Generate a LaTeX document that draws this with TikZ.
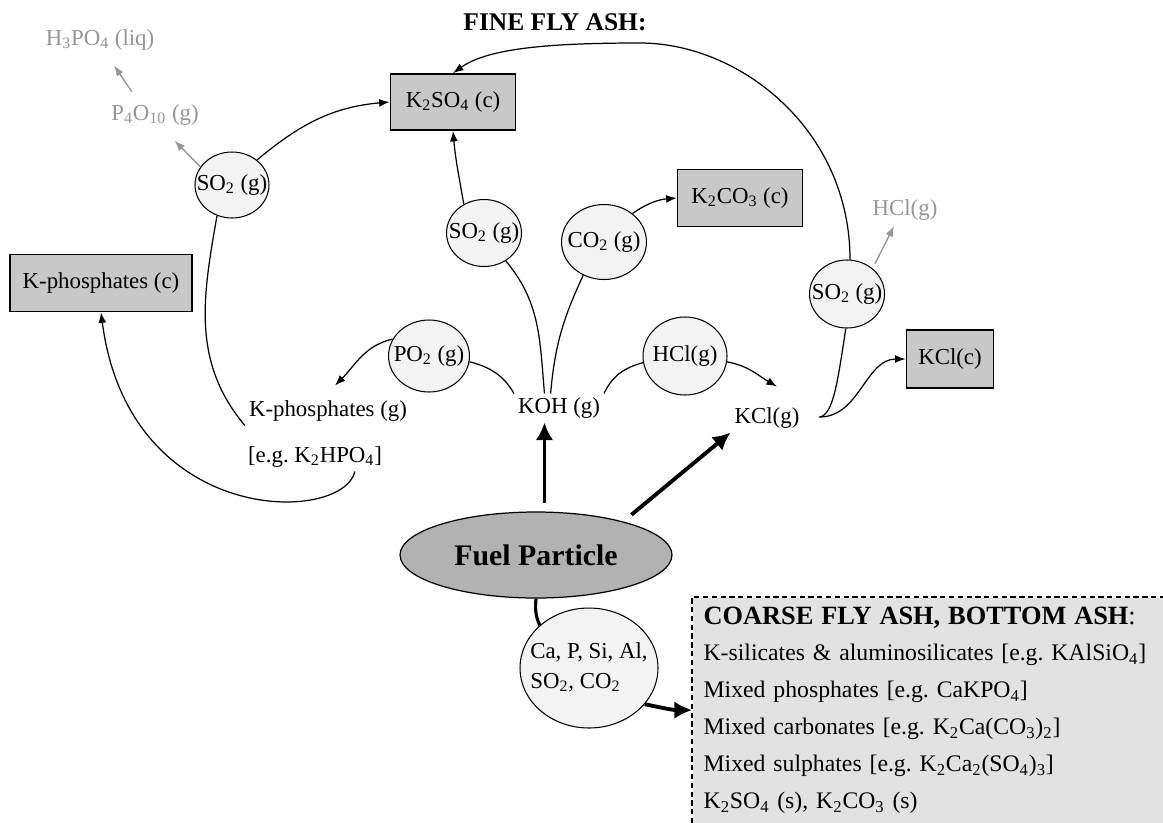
\documentclass[tikz,border=0pt]{standalone}
\usepackage{fontspec}
\setmainfont{Liberation Serif}
\usetikzlibrary{arrows.meta, shapes.geometric}
\definecolor{boxgray}{RGB}{200,200,200}
\definecolor{bubble}{RGB}{243,243,243}
\definecolor{fuelgray}{RGB}{178,178,178}
\definecolor{ashgray}{RGB}{226,226,226}
\definecolor{fadegray}{RGB}{150,150,150}
\newcommand{\sbs}[1]{\textsubscript{#1}}
\newcommand{\inbub}[1]{\makebox[0pt]{#1}}
\frenchspacing
\tikzset{
    txt/.style={font=\fontsize{13}{15}\selectfont, inner sep=2pt},
    fade/.style={txt, text=fadegray},
    bub/.style={ellipse, draw, line width=0.6pt, fill=bubble, inner sep=0pt, font=\fontsize{13}{15}\selectfont},
    prod/.style={rectangle, draw, line width=1pt, fill=boxgray, inner sep=0pt, font=\fontsize{13}{15}\selectfont},
    fadearrow/.style={->, fadegray, line width=0.8pt},
    bigarrow/.style={-{Latex[length=10pt,width=10pt]}, line width=2.2pt}
}

\begin{document}
\begin{tikzpicture}[x=0.02cm, y=0.02cm, line width=0.7pt, >={Latex[length=6pt,width=4.5pt]}]
    \useasboundingbox (0,0) rectangle (1163,-822);
    %
    \node[font=\bfseries\fontsize{14.5}{16}\selectfont] (fine) at (555,-22) {FINE FLY ASH:};
    \node[fade] (h3po4) at (100,-40) {H\sbs{3}PO\sbs{4} (liq)};
    \node[fade] (p4o10) at (155,-115) {P\sbs{4}O\sbs{10} (g)};
    \node[fade] (hclg) at (905,-210) {HCl(g)};
    %
    \node[prod, minimum width=2.5cm, minimum height=1.12cm] (k2so4) at (453,-102) {K\sbs{2}SO\sbs{4} (c)};
    \node[prod, minimum width=2.5cm, minimum height=1.14cm] (k2co3) at (740,-198) {K\sbs{2}CO\sbs{3} (c)};
    \node[prod, minimum width=3.64cm, minimum height=1.14cm] (kphosc) at (101,-283) {K-phosphates (c)};
    \node[prod, minimum width=1.74cm, minimum height=1.16cm] (kclc) at (950,-359) {KCl(c)};
    %
    \node[bub, minimum width=1.48cm, minimum height=1.32cm] (so2a) at (232,-185) {\inbub{SO\sbs{2} (g)}};
    \node[bub, minimum width=1.5cm, minimum height=1.34cm] (so2b) at (484,-233) {\inbub{SO\sbs{2} (g)}};
    \node[bub, minimum width=1.7cm, minimum height=1.5cm] (co2) at (604,-242) {\inbub{CO\sbs{2} (g)}};
    \node[bub, minimum width=1.5cm, minimum height=1.36cm] (so2c) at (847,-294) {\inbub{SO\sbs{2} (g)}};
    \node[bub, minimum width=1.62cm, minimum height=1.44cm] (po2) at (429,-356) {\inbub{PO\sbs{2} (g)}};
    \node[bub, minimum width=1.68cm, minimum height=1.56cm] (hcl) at (685,-356) {\inbub{HCl(g)}};
    %
    \node[txt] (kphosg) at (328,-411) {K-phosphates (g)};
    \node[txt, anchor=west] (eg) at (244,-457) {[e.g. K\sbs{2}HPO\sbs{4}]};
    \node[txt] (koh) at (559,-408) {KOH (g)};
    \node[txt] (kclg) at (767,-418) {KCl(g)};
    \coordinate (fork) at ([shift={(16,1)}]kclg.east);
    %
    \node[ellipse, draw, fill=fuelgray, minimum width=5.44cm, minimum height=1.72cm, inner sep=0pt, font=\bfseries\fontsize{17}{19}\selectfont] (fuel) at (536,-555) {\inbub{Fuel Particle}};
    \node[bub, minimum width=2.76cm, minimum height=2.4cm] (mix) at (589,-668) {\inbub{\begin{tabular}{@{}l@{}}Ca, P, Si, Al,\\[2pt] SO\sbs{2}, CO\sbs{2}\end{tabular}}};
    %
    \node[anchor=north west, fill=ashgray, minimum width=9.42cm, minimum height=4.5cm, inner xsep=0.22cm, inner ysep=0pt, text width=8.98cm, align=left, font=\fontsize{13.5}{21}\selectfont] (coarse) at (692,-597) {{\fontsize{15}{21}\selectfont\textbf{COARSE FLY ASH, BOTTOM ASH}:}\\
        K-silicates \& aluminosilicates [e.g. KAlSiO\sbs{4}]\\
        Mixed phosphates [e.g. CaKPO\sbs{4}]\\
        Mixed carbonates [e.g. K\sbs{2}Ca(CO\sbs{3})\sbs{2}]\\
        Mixed sulphates [e.g. K\sbs{2}Ca\sbs{2}(SO\sbs{4})\sbs{3}]\\
        K\sbs{2}SO\sbs{4} (s), K\sbs{2}CO\sbs{3} (s)};
    \draw[dash pattern=on 3pt off 2pt, line width=0.9pt] (coarse.south west) -- (coarse.north west) -- (coarse.north east);
    %
    \draw[fadearrow, shorten <=6pt, shorten >=7.5pt] (p4o10.140) -- (h3po4.-65);
    \draw[fadearrow, shorten >=9pt] (so2a.150) -- (p4o10.-60);
    \draw[fadearrow, shorten <=3pt, shorten >=1pt] (so2c.45) -- (hclg.235);
    %
    \draw[->] (so2a.45) to[out=40, in=185] (k2so4.west);
    \draw (kphosg.south west) to[out=130, in=-100] (so2a.244);
    \draw[->] (eg.-20) .. controls +(-13,-53) and +(28,-215) .. (kphosc.south);
    \draw[->] (po2.155) to[out=193, in=45] ([shift={(7,11)}]kphosg.north);
    %
    \draw (koh.north west) to[out=120, in=-15] (po2.-8);
    \draw (koh.135) to[out=95, in=-50] (so2b.-52);
    \draw (koh.120) to[out=85, in=-115] (co2.-122);
    \draw (koh.north east) to[out=65, in=195] (hcl.189);
    \draw[->] (so2b.125) to[out=100, in=-85] (k2so4.south);
    \draw[->] (co2.45) to[out=35, in=185] (k2co3.west);
    \draw[->] (hcl.-8) to[out=-10, in=150] ([shift={(10,17)}]kclg.north);
    %
    \draw (fork) .. controls +(14,2) and +(-8,-52) .. (so2c.-92);
    \draw[->] (fork) .. controls +(40,0) and +(-40,0) .. (kclc.west);
    \draw[->] (so2c.85) .. controls +(0,130) and +(100,0) .. (640,-43) .. controls +(-90,0) and +(35,25) .. (k2so4.north);
    %
    \draw[bigarrow, shorten <=5pt] (fuel.79) -- (fuel.79 |- koh.south);
    \draw[bigarrow, shorten <=6pt] (fuel.21) -- (kclg.south west);
    \draw[line width=1.8pt] (fuel.south) to[out=-95, in=115] (mix.139);
    \draw[bigarrow] (mix.-33) to[out=-12, in=180] (coarse.west);
\end{tikzpicture}
\end{document}
